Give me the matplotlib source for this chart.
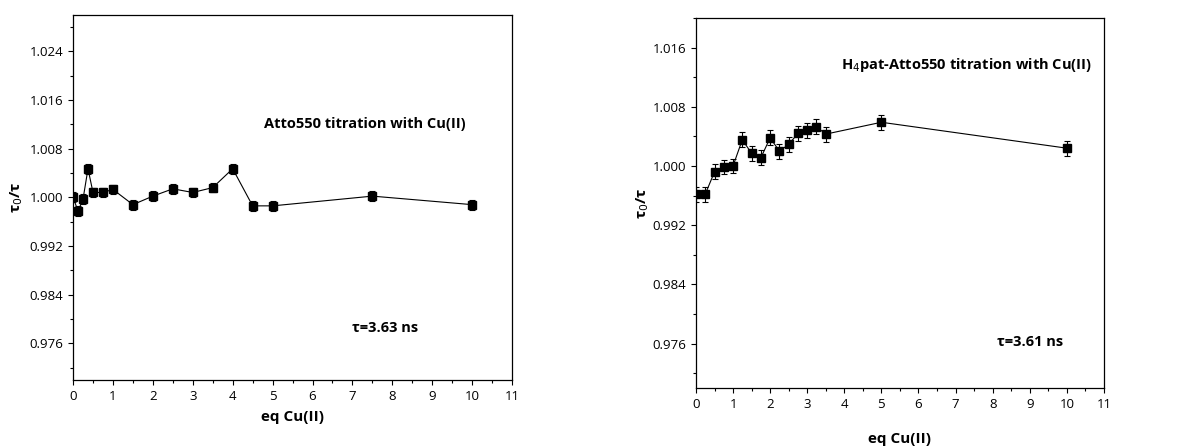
import numpy as np
import matplotlib
matplotlib.use('Agg')
import matplotlib.pyplot as plt
from matplotlib.ticker import MultipleLocator

plt.rcParams['font.family'] = ['Open Sans', 'DejaVu Sans']

# Atto550 titration with Cu(II)
eq_a = [0, 0.125, 0.25, 0.375, 0.5, 0.75, 1, 1.5, 2, 2.5, 3, 3.5, 4, 4.5, 5, 7.5, 10]
ratio_a = [1.0000, 0.99775, 0.9997, 1.0047, 1.0008, 1.0008, 1.0013, 0.9988, 1.0002,
           1.0014, 1.0008, 1.0016, 1.0047, 0.9986, 0.9986, 1.0002, 0.9988]
err_a = [0.0008] * len(eq_a)

# H4pat-Atto550 titration with Cu(II)
eq_b = [0, 0.25, 0.5, 0.75, 1, 1.25, 1.5, 1.75, 2, 2.25, 2.5, 2.75, 3, 3.25, 3.5, 5, 10]
ratio_b = [0.99618, 0.99618, 0.9992, 0.99987, 1.0000, 1.00355, 1.0017, 1.0011, 1.0038,
           1.0020, 1.0029, 1.0044, 1.0048, 1.0053, 1.0043, 1.0059, 1.0024]
err_b = [0.001] * len(eq_b)


def style_axes(ax, ymin, ymax, yticks):
    ax.set_xlim(0, 11)
    ax.set_ylim(ymin, ymax)
    ax.set_xticks(range(0, 12))
    ax.xaxis.set_minor_locator(MultipleLocator(0.5))
    ax.set_yticks(yticks)
    ax.yaxis.set_minor_locator(MultipleLocator(0.004))
    ax.set_yticklabels(['%.3f' % t for t in yticks])
    ax.tick_params(which='both', direction='out', top=False, right=False, labelsize=9.5)
    ax.tick_params(which='major', length=3.5, width=0.8)
    ax.tick_params(which='minor', length=2, width=0.8)
    for s in ax.spines.values():
        s.set_linewidth(0.9)


fig = plt.figure(figsize=(11.78, 4.48), dpi=100)

# Left panel
ax1 = fig.add_axes([0.062, 0.152, 0.3727, 0.815])
ax1.errorbar(eq_a, ratio_a, yerr=err_a, fmt='s-', color='black', ms=5.5,
             lw=0.8, elinewidth=0.8, capsize=2.5, capthick=0.8)
style_axes(ax1, 0.970, 1.030, [0.976, 0.984, 0.992, 1.000, 1.008, 1.016, 1.024])
ax1.set_xlabel('eq Cu(II)', fontweight='bold', fontsize=11, labelpad=5)
ax1.set_ylabel('τ$_0$/τ', fontweight='bold', fontsize=11, labelpad=3)
ax1.text(7.32, 1.0121, 'Atto550 titration with Cu(II)', fontweight='bold',
         fontsize=10.5, ha='center', va='center')
ax1.text(7.82, 0.9786, 'τ=3.63 ns', fontweight='bold', fontsize=10.5,
         ha='center', va='center')

# Right panel
ax2 = fig.add_axes([0.5908, 0.134, 0.3463, 0.826])
ax2.errorbar(eq_b, ratio_b, yerr=err_b, fmt='s-', color='black', ms=5.5,
             lw=0.8, elinewidth=0.8, capsize=2.5, capthick=0.8)
style_axes(ax2, 0.970, 1.020, [0.976, 0.984, 0.992, 1.000, 1.008, 1.016])
ax2.set_xlabel('eq Cu(II)', fontweight='bold', fontsize=11, labelpad=15)
ax2.set_ylabel('τ$_0$/τ', fontweight='bold', fontsize=11, labelpad=1)
ax2.text(7.3, 1.0137, 'H$_4$pat-Atto550 titration with Cu(II)', fontweight='bold',
         fontsize=10.5, ha='center', va='center')
ax2.text(9.0, 0.9762, 'τ=3.61 ns', fontweight='bold', fontsize=10.5,
         ha='center', va='center')

plt.savefig('out.png', dpi=100)
